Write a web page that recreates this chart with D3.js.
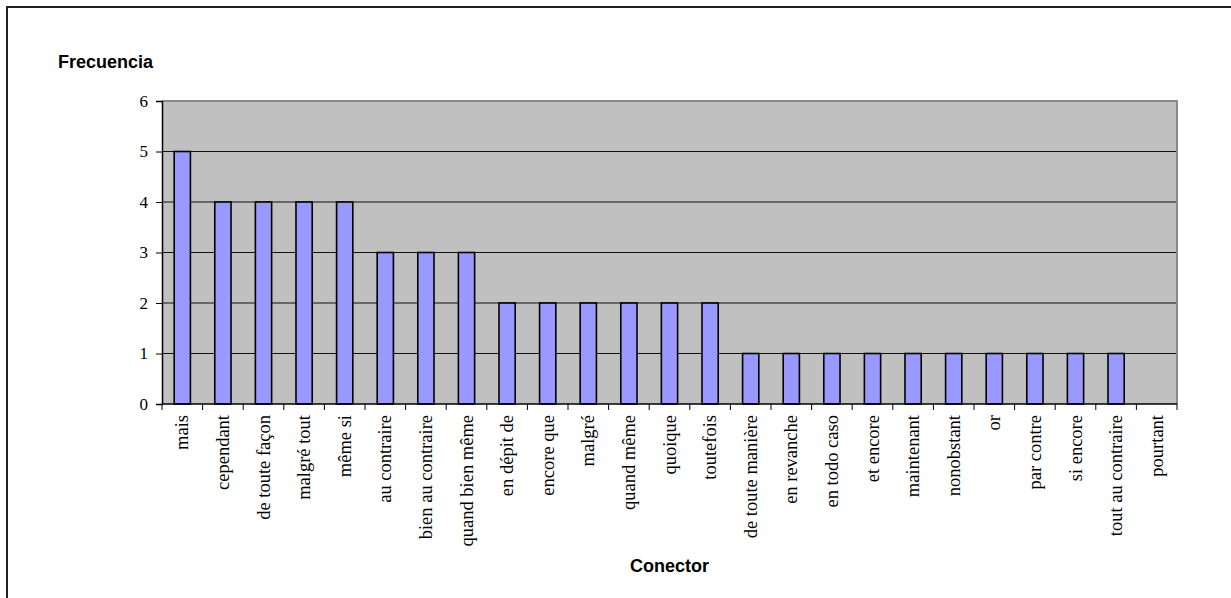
<!doctype html>
<html lang="fr">
<head>
<meta charset="UTF-8">
<title>Frecuencia por conector</title>
<style>
  body { margin: 0; background: #fff; }
  svg { display: block; }
</style>
</head>
<body>
<svg id="chart" width="1231" height="598"></svg>
<script src="https://d3js.org/d3.v7.min.js"></script>
<script>
    const connectors = ["mais", "cependant", "de toute façon", "malgré tout", "même si",
        "au contraire", "bien au contraire", "quand bien même", "en dépit de", "encore que",
        "malgré", "quand même", "quoique", "toutefois", "de toute manière", "en revanche",
        "en todo caso", "et encore", "maintenant", "nonobstant", "or", "par contre",
        "si encore", "tout au contraire", "pourtant"];
    const frequency = [5, 4, 4, 4, 4, 3, 3, 3, 2, 2, 2, 2, 2, 2, 1, 1, 1, 1, 1, 1, 1, 1, 1, 1, 0];
    const yTicks = [0, 1, 2, 3, 4, 5, 6];

    const data = connectors.map((c, i) => ({name: c, value: frequency[i]}));

    let svg = d3.select("#chart"),
        margin = {top: 101, right: 54, bottom: 194, left: 162},
        width = +svg.attr("width"),
        height = +svg.attr("height");

    // outer chart frame (right/bottom run off the picture)
    svg.append("rect")
        .attr("x", 7).attr("y", 7)
        .attr("width", 1240).attr("height", 610)
        .attr("fill", "#fff")
        .attr("stroke", "#222")
        .attr("stroke-width", 2);

    let x = d3.scaleBand()
        .domain(connectors)
        .range([margin.left, width - margin.right])
        .paddingInner(0)
        .paddingOuter(0);

    let y = d3.scaleLinear()
        .domain([0, 6])
        .range([height - margin.bottom, margin.top]);

    // plot area
    svg.append("rect")
        .attr("x", margin.left)
        .attr("y", margin.top)
        .attr("width", width - margin.right - margin.left)
        .attr("height", y(0) - y(6))
        .attr("fill", "#c0c0c0");

    // gridlines
    svg.append("g")
        .selectAll("line")
        .data(yTicks.slice(1, -1))
        .enter().append("line")
        .attr("x1", margin.left)
        .attr("x2", width - margin.right)
        .attr("y1", d => y(d))
        .attr("y2", d => y(d))
        .attr("stroke", "#111")
        .attr("stroke-width", 1);

    // gray top/right border of plot
    svg.append("path")
        .attr("d", "M" + margin.left + "," + y(6) + "H" + (width - margin.right) + "V" + y(0))
        .attr("fill", "none")
        .attr("stroke", "#8a8a8a")
        .attr("stroke-width", 2);

    const barW = x.bandwidth() / 2.5;

    svg.append("g")
        .selectAll("rect")
        .data(data.filter(d => d.value > 0))
        .enter().append("rect")
        .attr("x", d => x(d.name) + (x.bandwidth() - barW) / 2)
        .attr("y", d => y(d.value))
        .attr("width", barW)
        .attr("height", d => y(0) - y(d.value))
        .attr("fill", "#9999ff")
        .attr("stroke", "#000")
        .attr("stroke-width", 1.6);

    // y axis
    svg.append("g")
        .attr("transform", "translate(" + margin.left + ",0)")
        .call(d3.axisLeft(y).tickValues(yTicks).tickSize(6).tickPadding(8).tickFormat(d3.format("d")))
        .call(g => g.select(".domain").attr("stroke", "#000").attr("stroke-width", 1.5))
        .call(g => g.selectAll(".tick line").attr("stroke", "#000"))
        .call(g => g.selectAll("text")
            .attr("font-family", "'Liberation Serif', 'Times New Roman', serif")
            .attr("font-size", "17px")
            .attr("fill", "#000"));

    // x axis: ticks between categories
    let xAxis = svg.append("g")
        .attr("transform", "translate(0," + y(0) + ")");

    xAxis.append("line")
        .attr("x1", margin.left).attr("x2", width - margin.right)
        .attr("stroke", "#000").attr("stroke-width", 1.5);

    xAxis.selectAll(".sep")
        .data(connectors)
        .enter().append("line")
        .attr("class", "sep")
        .attr("x1", d => x(d)).attr("x2", d => x(d))
        .attr("y1", 0).attr("y2", 6)
        .attr("stroke", "#000");

    xAxis.append("line")
        .attr("x1", width - margin.right).attr("x2", width - margin.right)
        .attr("y1", 0).attr("y2", 6)
        .attr("stroke", "#000");

    xAxis.selectAll(".lbl")
        .data(connectors)
        .enter().append("text")
        .attr("class", "lbl")
        .attr("transform", d => "translate(" + (x(d) + x.bandwidth() / 2 + 6) + ",11) rotate(-90)")
        .attr("text-anchor", "end")
        .attr("font-family", "'Liberation Serif', 'Times New Roman', serif")
        .attr("font-size", "18.5px")
        .attr("fill", "#000")
        .text(d => d);

    // axis titles
    svg.append("text")
        .attr("x", 58)
        .attr("y", 68)
        .attr("font-family", "'Liberation Sans', Arial, sans-serif")
        .attr("font-weight", "bold")
        .attr("font-size", "18px")
        .text("Frecuencia");

    svg.append("text")
        .attr("x", (margin.left + width - margin.right) / 2)
        .attr("y", 572)
        .attr("text-anchor", "middle")
        .attr("font-family", "'Liberation Sans', Arial, sans-serif")
        .attr("font-weight", "bold")
        .attr("font-size", "18px")
        .text("Conector");
</script>
</body>
</html>
